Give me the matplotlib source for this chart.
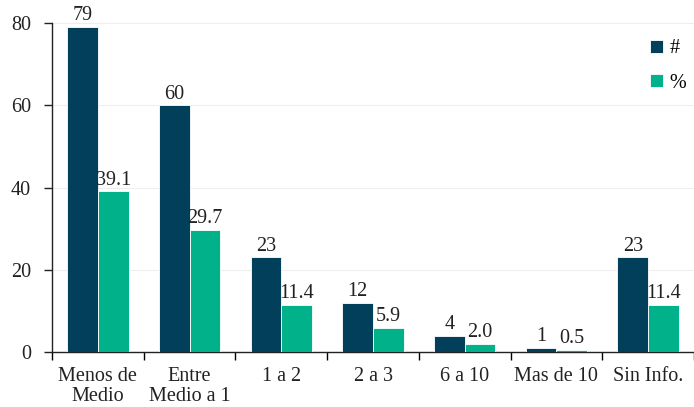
import matplotlib
matplotlib.use("Agg")
import matplotlib.pyplot as plt
import numpy as np

categories = ["Menos de\nMedio", "Entre\nMedio a 1", "1 a 2", "2 a 3", "6 a 10", "Mas de 10", "Sin Info."]
counts = [79, 60, 23, 12, 4, 1, 23]
percents = [39.1, 29.7, 11.4, 5.9, 2.0, 0.5, 11.4]
count_labels = ["79", "60", "23", "12", "4", "1", "23"]
pct_labels = ["39.1", "29.7", "11.4", "5.9", "2.0", "0.5", "11.4"]

dark = "#023F5A"
green = "#00B18A"

plt.rcParams['font.family'] = ['Liberation Serif', 'DejaVu Serif']
FS = 14.5

fig = plt.figure(figsize=(6.94, 4.07), dpi=100)
ax = fig.add_axes([52/694, 1-352/407, 642/694, 329/407])

x = np.arange(len(categories))
w = 0.335
b1 = ax.bar(x - w/2, counts, w, color=dark, edgecolor="white", linewidth=0.6, label="#", zorder=3)
b2 = ax.bar(x + w/2, percents, w, color=green, edgecolor="white", linewidth=0.6, label="%", zorder=3)

for rect, lab in zip(b1, count_labels):
    ax.text(rect.get_x() + rect.get_width()/2, rect.get_height() + 0.4, lab,
            ha="center", va="bottom", fontsize=FS, color="#222222")
for rect, lab in zip(b2, pct_labels):
    ax.text(rect.get_x() + rect.get_width()/2, rect.get_height() + 0.4, lab,
            ha="center", va="bottom", fontsize=FS, color="#222222")

ax.set_xlim(-0.5, 6.5)
ax.set_ylim(0, 80)
ax.set_yticks([0, 20, 40, 60, 80])
ax.set_xticks(x)
ax.set_xticklabels(categories, fontsize=FS, color="#222222", linespacing=1.05)
ax.set_xticks(np.arange(-0.5, 6.6, 1), minor=True)
ax.tick_params(axis="x", which="major", length=0, pad=11)
ax.tick_params(axis="x", which="minor", length=6, width=1, direction="out")
ax.tick_params(axis="y", labelsize=FS, length=6, width=1, colors="#222222", pad=9)
ax.yaxis.grid(True, color="#eeeeee", linewidth=0.8, zorder=0)
for s in ["top", "right"]:
    ax.spines[s].set_visible(False)
for s in ["left", "bottom"]:
    ax.spines[s].set_color("#222222")
    ax.spines[s].set_linewidth(1)

leg = ax.legend(loc="upper right", bbox_to_anchor=(1.016, 1.005), frameon=False, fontsize=FS,
                handlelength=0.65, handleheight=0.65, handletextpad=0.3, labelspacing=0.75)

fig.savefig("out.png", dpi=100)
